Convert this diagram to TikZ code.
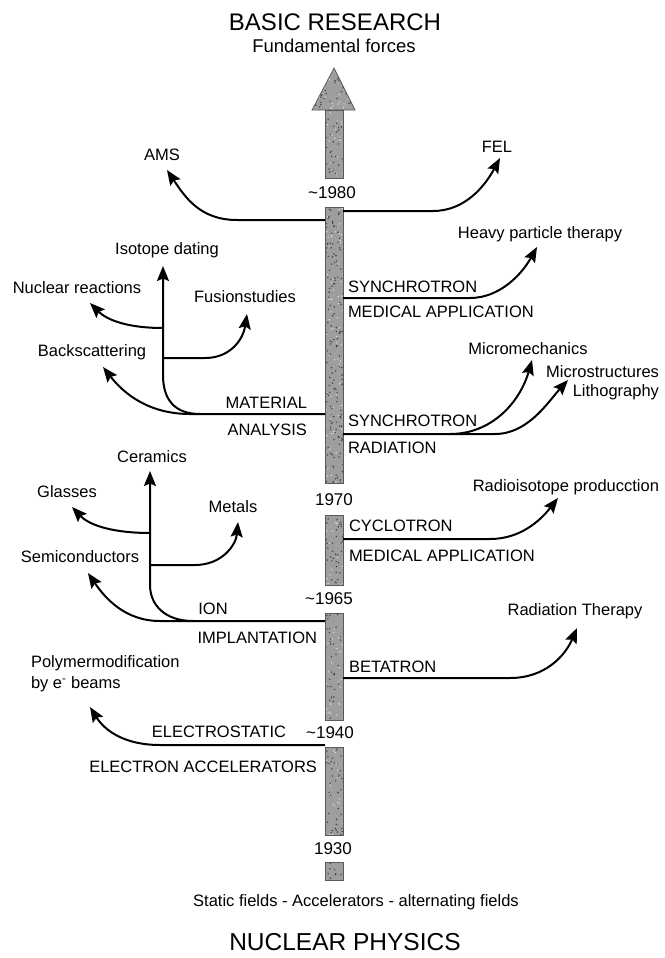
\documentclass[tikz,border=0pt]{standalone}
\usepackage{fontspec}
\setmainfont{Liberation Sans}
\usetikzlibrary{arrows.meta}

\tikzset{every picture/.style={line width=2pt}}
\tikzset{
  lbl/.style={font=\fontsize{16.5}{19}\selectfont, inner sep=1pt},
  yr/.style={font=\fontsize{17}{19}\selectfont, inner sep=1pt},
  branch/.style={draw=black, -{Stealth[length=15pt,width=12pt,inset=2.5pt]}},
  barseg/.style={fill=black!38, draw=black!65, line width=0.7pt}
}

\begin{document}
\begin{tikzpicture}[x=1pt,y=1pt,yscale=-1]
\useasboundingbox (0,0) rectangle (664,958);
\pgfmathsetseed{11}

%Time bar with arrow head
\fill [black!38] (312,110) -- (334,68) -- (355,110) -- cycle ;
\foreach \ya/\yb in {110/178,207/483,515/585,613/720,747/835,862/880}
  \fill [black!38] (325,\ya) rectangle (343,\yb) ;
\begin{scope}
\clip (312,110) -- (334,68) -- (355,110) -- cycle
  (325,110) rectangle (343,178) (325,207) rectangle (343,483)
  (325,515) rectangle (343,585) (325,613) rectangle (343,720)
  (325,747) rectangle (343,835) (325,862) rectangle (343,880);
\foreach \i in {1,...,900}
  \fill [black!75] (312+43*rnd,68+812*rnd) circle (0.8);
\foreach \i in {1,...,500}
  \fill [white!85!black] (312+43*rnd,68+812*rnd) circle (0.8);
\end{scope}
\draw [barseg, fill=none] (312,110) -- (334,68) -- (355,110) -- cycle ;
\foreach \ya/\yb in {110/178,207/483,515/585,613/720,747/835,862/880}
  \draw [barseg, fill=none] (325,\ya) rectangle (343,\yb) ;

% Title Nodes
\node (basic) at (335,22) {\fontsize{24}{26}\selectfont BASIC RESEARCH};
\node (forces) at (334,46) {\fontsize{18.5}{20}\selectfont Fundamental forces};
\node (fields) at (356,902) {\fontsize{16.5}{19}\selectfont Static fields - Accelerators - alternating fields};
\node (nuclear) at (345,942) {\fontsize{24.5}{26}\selectfont NUCLEAR PHYSICS};

% Year Nodes
\node [yr] (y1980) at (332,193) {\textasciitilde 1980};
\node [yr] (y1970) at (334,500) {1970};
\node [yr] (y1965) at (329,599) {\textasciitilde 1965};
\node [yr] (y1940) at (330,733) {\textasciitilde 1940};
\node [yr] (y1930) at (333,849) {1930};

% Accelerator Nodes (at the bar)
\node [lbl, anchor=west] (synchMed) at (346,287) {SYNCHROTRON};
\node [lbl, anchor=west] (medApp) at (346,312) {MEDICAL APPLICATION};
\node [lbl, anchor=east] (material) at (309,403) {MATERIAL};
\node [lbl, anchor=east] (analysis) at (309,430) {ANALYSIS};
\node [lbl, anchor=west] (synchRad) at (346,421) {SYNCHROTRON};
\node [lbl, anchor=west] (radiation) at (346,448) {RADIATION};
\node [lbl, anchor=west] (cyclotron) at (347,526) {CYCLOTRON};
\node [lbl, anchor=west] (medApp2) at (347,556) {MEDICAL APPLICATION};
\node [lbl] (ion) at (213,609) {ION};
\node [lbl, anchor=east] (implant) at (319,638) {IMPLANTATION};
\node [lbl, anchor=west] (betatron) at (347,667) {BETATRON};
\node [lbl, anchor=east] (electrost) at (288,732) {ELECTROSTATIC};
\node [lbl, anchor=east] (elAcc) at (319,767) {ELECTRON ACCELERATORS};

% Application Nodes
\node [lbl] (ams) at (162,155) {AMS};
\node [lbl] (fel) at (497,147) {FEL};
\node [lbl] (isotope) at (167,250) {Isotope dating};
\node [lbl] (nucl) at (77,288) {Nuclear reactions};
\node [lbl] (fusion) at (245,297) {Fusionstudies};
\node [lbl] (backsc) at (92,352) {Backscattering};
\node [lbl] (heavy) at (540,234) {Heavy particle therapy};
\node [lbl] (micromech) at (528,349) {Micromechanics};
\node [lbl, anchor=east] (microstr) at (661,372) {Microstructures};
\node [lbl, anchor=east] (litho) at (661,392) {Lithography};
\node [lbl] (ceramics) at (152,457) {Ceramics};
\node [lbl] (glasses) at (67,492) {Glasses};
\node [lbl] (metals) at (233,507) {Metals};
\node [lbl] (semicond) at (80,557) {Semiconductors};
\node [lbl, anchor=west] (polymer) at (29,663) {Polymermodification};
\node [lbl, anchor=west] (ebeams) at (29,684) {by e\textsuperscript{-} beams};
\node [lbl, anchor=east] (radioiso) at (661,487) {Radioisotope producction};
\node [lbl] (radther) at (575,611) {Radiation Therapy};

% Bar Coordinates
\coordinate (bAms) at (325,220);
\coordinate (bFel) at (343,211);
\coordinate (bHeavy) at (343,298);
\coordinate (bMat) at (325,414);
\coordinate (bRad) at (343,434);
\coordinate (bCyc) at (343,539);
\coordinate (bIon) at (325,621);
\coordinate (bBeta) at (343,678);
\coordinate (bElec) at (325,745);

% Tip Coordinates
\coordinate (amsTip) at (167,170);
\coordinate (felTip) at (500,158);
\coordinate (isoTip) at (163,266);
\coordinate (nuclTip) at (90,303);
\coordinate (fusTip) at (247,314);
\coordinate (backTip) at (103,367);
\coordinate (heavyTip) at (537,247);
\coordinate (mechTip) at (532,360);
\coordinate (strTip) at (568,380);
\coordinate (cerTip) at (150,471);
\coordinate (glaTip) at (72,507);
\coordinate (metTip) at (238,522);
\coordinate (semTip) at (88,573);
\coordinate (polTip) at (90,707);
\coordinate (isoProdTip) at (558,498);
\coordinate (therTip) at (577,628);

%Curve Lines ~1980
\draw [branch] (bAms) -- (237,220) .. controls (200,220) and (185,197) .. (amsTip);
\draw [branch] (bFel) -- (433,211) .. controls (465,211) and (485,186) .. (felTip);
\draw [branch] (bHeavy) -- (470,298) .. controls (500,298) and (522,274) .. (heavyTip);

%Curve Lines material analysis
\draw [branch] (bMat) -- (190,414) .. controls (150,414) and (125,395) .. (backTip);
\draw [branch] (200,414) .. controls (175,414) and (163,400) .. (163,375) -- (isoTip);
\draw [branch] (163,328) .. controls (130,328) and (108,321) .. (nuclTip);
\draw [branch] (163,358) -- (205,358) .. controls (230,358) and (243,340) .. (fusTip);

%Curve Lines synchrotron radiation
\draw [branch] (bRad) -- (495,434) .. controls (528,434) and (548,402) .. (strTip);
\draw [branch] (450,434) .. controls (492,434) and (520,402) .. (mechTip);

%Curve Lines cyclotron and betatron
\draw [branch] (bCyc) -- (490,539) .. controls (520,539) and (540,521) .. (isoProdTip);
\draw [branch] (bBeta) -- (510,678) .. controls (545,678) and (565,656) .. (therTip);

%Curve Lines ion implantation
\draw [branch] (bIon) -- (160,621) .. controls (125,621) and (105,598) .. (semTip);
\draw [branch] (193,621) .. controls (165,621) and (150,605) .. (150,585) -- (cerTip);
\draw [branch] (150,533) .. controls (115,533) and (90,526) .. (glaTip);
\draw [branch] (150,565) -- (195,565) .. controls (222,565) and (236,545) .. (metTip);

%Curve Lines electron accelerators
\draw [branch] (bElec) -- (160,745) .. controls (125,745) and (105,731) .. (polTip);

\end{tikzpicture}
\end{document}
